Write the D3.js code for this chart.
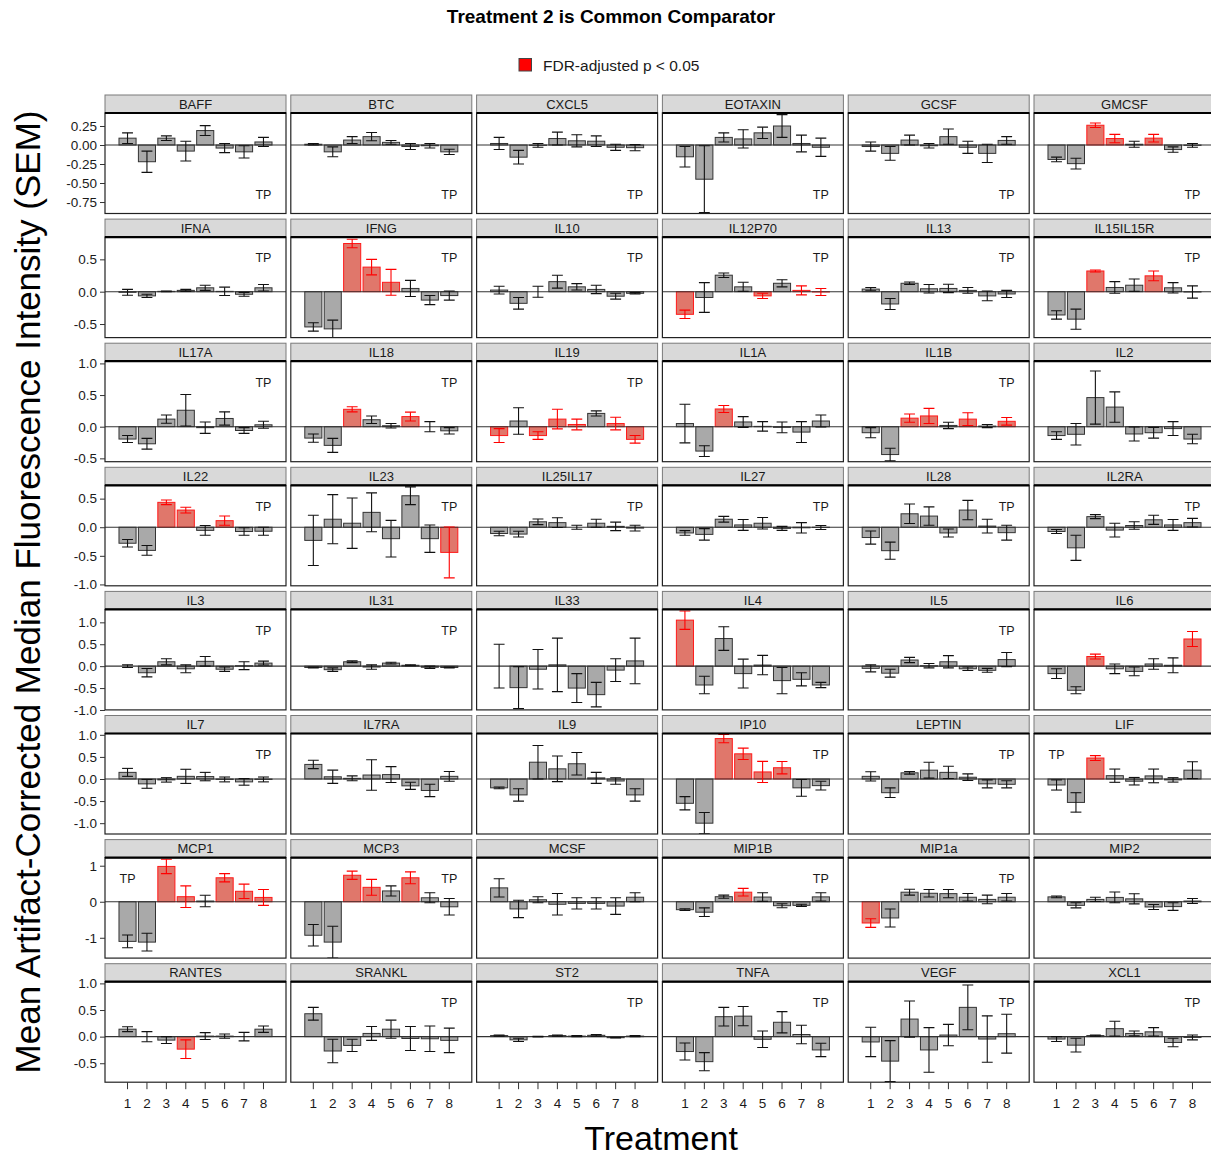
<!DOCTYPE html>
<html>
<head>
<meta charset="utf-8">
<script src="https://cdn.jsdelivr.net/npm/d3@7"></script>
<style>
  body { margin: 0; background: #fff; }
  svg { display: block; font-family: "Liberation Sans", Arial, sans-serif; }
</style>
</head>
<body>
<div id="chart"></div>
<script>
// analytes, laid out 6 per row
const analytes = [
  "BAFF", "BTC", "CXCL5", "EOTAXIN", "GCSF", "GMCSF",
  "IFNA", "IFNG", "IL10", "IL12P70", "IL13", "IL15IL15R",
  "IL17A", "IL18", "IL19", "IL1A", "IL1B", "IL2",
  "IL22", "IL23", "IL25IL17", "IL27", "IL28", "IL2RA",
  "IL3", "IL31", "IL33", "IL4", "IL5", "IL6",
  "IL7", "IL7RA", "IL9", "IP10", "LEPTIN", "LIF",
  "MCP1", "MCP3", "MCSF", "MIP1B", "MIP1a", "MIP2",
  "RANTES", "SRANKL", "ST2", "TNFA", "VEGF", "XCL1"
];

const treatments = [1, 2, 3, 4, 5, 6, 7, 8];

// mean artifact-corrected MFI, treatments 1..8
const means = [
  [0.09, -0.22, 0.09, -0.08, 0.19, -0.04, -0.09, 0.04],
  [0.01, -0.09, 0.065, 0.11, 0.035, -0.02, -0.01, -0.09],
  [0.02, -0.16, -0.005, 0.085, 0.055, 0.05, -0.03, -0.035],
  [-0.155, -0.45, 0.10, 0.08, 0.16, 0.25, 0.02, -0.03],
  [-0.02, -0.11, 0.065, -0.01, 0.11, -0.03, -0.11, 0.06],
  [-0.19, -0.245, 0.26, 0.085, 0.01, 0.09, -0.06, -0.005],

  [-0.01, -0.065, 0.005, 0.02, 0.06, 0.005, -0.04, 0.06],
  [-0.545, -0.575, 0.745, 0.38, 0.145, 0.05, -0.13, -0.06],
  [0.025, -0.18, 0.0, 0.155, 0.075, 0.035, -0.07, -0.025],
  [-0.35, -0.09, 0.255, 0.075, -0.065, 0.13, 0.02, -0.005],
  [0.04, -0.19, 0.13, 0.045, 0.05, 0.02, -0.065, -0.035],
  [-0.36, -0.425, 0.32, 0.065, 0.1, 0.245, 0.06, -0.005],

  [-0.195, -0.27, 0.12, 0.26, -0.015, 0.13, -0.06, 0.03],
  [-0.18, -0.295, 0.275, 0.11, 0.015, 0.16, 0.0, -0.065],
  [-0.14, 0.09, -0.14, 0.12, 0.035, 0.21, 0.05, -0.2],
  [0.05, -0.385, 0.28, 0.075, 0.005, -0.01, -0.085, 0.09],
  [-0.095, -0.44, 0.135, 0.17, 0.02, 0.12, 0.01, 0.085],
  [-0.14, -0.12, 0.46, 0.31, -0.115, -0.095, -0.03, -0.195],

  [-0.28, -0.405, 0.435, 0.3, -0.055, 0.115, -0.075, -0.07],
  [-0.23, 0.14, 0.07, 0.26, -0.2, 0.55, -0.2, -0.44],
  [-0.11, -0.12, 0.095, 0.08, 0.0, 0.07, 0.015, -0.015],
  [-0.1, -0.125, 0.14, 0.04, 0.07, -0.02, -0.01, -0.005],
  [-0.18, -0.41, 0.235, 0.195, -0.1, 0.3, 0.02, -0.095],
  [-0.075, -0.36, 0.185, -0.05, 0.03, 0.13, 0.04, 0.08],

  [0.0, -0.15, 0.1, -0.06, 0.11, -0.07, 0.01, 0.07],
  [-0.03, -0.08, 0.1, -0.02, 0.07, 0.02, -0.025, -0.03],
  [0.0, -0.49, -0.07, 0.03, -0.5, -0.65, -0.09, 0.12],
  [1.05, -0.43, 0.63, -0.17, 0.025, -0.33, -0.3, -0.43],
  [-0.05, -0.16, 0.14, 0.01, 0.1, -0.06, -0.095, 0.15],
  [-0.17, -0.55, 0.22, -0.06, -0.12, 0.05, 0.02, 0.62],

  [0.15, -0.11, -0.02, 0.06, 0.055, -0.01, -0.065, -0.01],
  [0.33, 0.05, 0.015, 0.09, 0.1, -0.155, -0.26, 0.06],
  [-0.2, -0.36, 0.38, 0.23, 0.345, 0.025, -0.045, -0.36],
  [-0.55, -1.0, 0.915, 0.57, 0.16, 0.255, -0.2, -0.15],
  [0.06, -0.31, 0.14, 0.2, 0.15, 0.04, -0.11, -0.12],
  [-0.135, -0.53, 0.475, 0.075, -0.05, 0.07, -0.02, 0.2],

  [-1.1, -1.12, 0.98, 0.14, 0.02, 0.665, 0.29, 0.12],
  [-0.93, -1.12, 0.735, 0.4, 0.3, 0.665, 0.11, -0.14],
  [0.385, -0.2, 0.055, -0.07, -0.045, -0.045, -0.12, 0.125],
  [-0.22, -0.29, 0.14, 0.265, 0.13, -0.11, -0.1, 0.135],
  [-0.59, -0.45, 0.265, 0.235, 0.225, 0.125, 0.065, 0.125],
  [0.135, -0.1, 0.065, 0.12, 0.08, -0.145, -0.135, 0.02],

  [0.14, 0.0, -0.065, -0.235, 0.01, 0.01, 0.0, 0.14],
  [0.43, -0.27, -0.165, 0.06, 0.14, -0.035, -0.04, -0.07],
  [0.02, -0.06, 0.0, 0.02, 0.01, 0.025, -0.02, 0.01],
  [-0.28, -0.47, 0.375, 0.385, -0.05, 0.27, 0.04, -0.25],
  [-0.1, -0.46, 0.33, -0.25, 0.03, 0.55, -0.045, 0.055],
  [-0.045, -0.16, 0.02, 0.15, 0.06, 0.09, -0.11, -0.015]
];

// SEM for each bar
const sems = [
  [0.07, 0.14, 0.03, 0.13, 0.065, 0.06, 0.08, 0.06],
  [0.01, 0.065, 0.045, 0.055, 0.025, 0.04, 0.03, 0.035],
  [0.08, 0.09, 0.025, 0.085, 0.08, 0.07, 0.04, 0.04],
  [0.135, 0.44, 0.06, 0.12, 0.075, 0.15, 0.11, 0.12],
  [0.06, 0.09, 0.065, 0.03, 0.1, 0.08, 0.12, 0.05],
  [0.03, 0.07, 0.03, 0.055, 0.04, 0.05, 0.035, 0.025],

  [0.045, 0.025, 0.005, 0.015, 0.04, 0.065, 0.03, 0.05],
  [0.065, 0.135, 0.065, 0.12, 0.2, 0.125, 0.07, 0.07],
  [0.06, 0.09, 0.085, 0.1, 0.05, 0.065, 0.045, 0.01],
  [0.065, 0.23, 0.035, 0.07, 0.04, 0.055, 0.07, 0.055],
  [0.025, 0.085, 0.02, 0.065, 0.065, 0.045, 0.075, 0.055],
  [0.065, 0.155, 0.015, 0.09, 0.095, 0.075, 0.08, 0.095],

  [0.055, 0.085, 0.065, 0.25, 0.09, 0.105, 0.045, 0.055],
  [0.065, 0.11, 0.04, 0.06, 0.035, 0.07, 0.08, 0.05],
  [0.11, 0.21, 0.06, 0.155, 0.085, 0.04, 0.1, 0.06],
  [0.305, 0.085, 0.055, 0.085, 0.075, 0.085, 0.165, 0.095],
  [0.08, 0.1, 0.065, 0.12, 0.05, 0.1, 0.025, 0.06],
  [0.06, 0.17, 0.42, 0.24, 0.11, 0.085, 0.11, 0.075],

  [0.065, 0.085, 0.04, 0.05, 0.085, 0.08, 0.065, 0.07],
  [0.44, 0.43, 0.44, 0.34, 0.32, 0.155, 0.24, 0.445],
  [0.04, 0.05, 0.05, 0.085, 0.035, 0.07, 0.075, 0.05],
  [0.04, 0.1, 0.05, 0.095, 0.1, 0.035, 0.09, 0.035],
  [0.115, 0.15, 0.17, 0.16, 0.07, 0.17, 0.12, 0.13],
  [0.035, 0.22, 0.035, 0.12, 0.065, 0.08, 0.095, 0.075],

  [0.03, 0.095, 0.07, 0.09, 0.11, 0.05, 0.09, 0.045],
  [0.01, 0.04, 0.02, 0.05, 0.02, 0.01, 0.025, 0.01],
  [0.5, 0.48, 0.45, 0.61, 0.33, 0.28, 0.26, 0.52],
  [0.21, 0.2, 0.27, 0.33, 0.22, 0.3, 0.15, 0.06],
  [0.08, 0.09, 0.06, 0.05, 0.14, 0.04, 0.045, 0.16],
  [0.11, 0.08, 0.055, 0.11, 0.1, 0.12, 0.17, 0.17],

  [0.09, 0.1, 0.05, 0.16, 0.095, 0.055, 0.075, 0.055],
  [0.095, 0.15, 0.055, 0.345, 0.18, 0.08, 0.14, 0.11],
  [0.02, 0.14, 0.38, 0.29, 0.255, 0.125, 0.075, 0.14],
  [0.15, 0.24, 0.095, 0.13, 0.24, 0.14, 0.19, 0.1],
  [0.105, 0.11, 0.03, 0.18, 0.14, 0.075, 0.09, 0.08],
  [0.115, 0.22, 0.055, 0.15, 0.085, 0.155, 0.05, 0.19],

  [0.175, 0.245, 0.2, 0.3, 0.16, 0.115, 0.2, 0.22],
  [0.3, 0.44, 0.115, 0.22, 0.14, 0.165, 0.14, 0.23],
  [0.255, 0.24, 0.085, 0.3, 0.155, 0.155, 0.23, 0.125],
  [0.025, 0.12, 0.045, 0.105, 0.12, 0.055, 0.03, 0.115],
  [0.12, 0.25, 0.08, 0.105, 0.115, 0.105, 0.12, 0.105],
  [0.025, 0.07, 0.06, 0.15, 0.14, 0.07, 0.105, 0.07],

  [0.045, 0.095, 0.065, 0.175, 0.065, 0.04, 0.08, 0.06],
  [0.12, 0.22, 0.115, 0.13, 0.17, 0.225, 0.24, 0.23],
  [0.01, 0.03, 0.005, 0.01, 0.01, 0.015, 0.005, 0.01],
  [0.16, 0.17, 0.175, 0.18, 0.155, 0.2, 0.175, 0.125],
  [0.275, 0.385, 0.34, 0.42, 0.2, 0.42, 0.435, 0.365],
  [0.045, 0.13, 0.01, 0.14, 0.045, 0.08, 0.08, 0.045]
];

// treatments with FDR-adjusted p < 0.05
const sigTreatments = [
  [], [], [], [], [], [3, 4, 6],
  [], [3, 4, 5], [], [1, 5, 7, 8], [], [3, 6],
  [], [3, 6], [1, 3, 4, 5, 7, 8], [3], [3, 4, 6, 8], [],
  [3, 4, 6], [8], [], [], [], [],
  [], [], [], [1], [], [3, 8],
  [], [], [], [3, 4, 5, 6], [], [3],
  [3, 4, 6, 7, 8], [3, 4, 6], [], [4], [1], [],
  [4], [], [], [], [], []
];

// where the "TP" tag sits: tr = top right, br = bottom right, tl = top left
const tpTags = [
  "br", "br", "br", "br", "br", "br",
  "tr", "tr", "tr", "tr", "tr", "tr",
  "tr", "tr", "tr", "", "tr", "",
  "tr", "tr", "tr", "tr", "tr", "tr",
  "tr", "tr", "", "", "tr", "",
  "tr", "", "", "tr", "tr", "tl",
  "tl", "tr", "", "tr", "tr", "",
  "", "tr", "tr", "tr", "tr", "tr"
];

// shared y range and ticks per facet row
const rowLimits = [
  [-0.901, 0.421], [-0.71, 0.844], [-0.553, 1.035], [-1.024, 0.733],
  [-0.998, 1.295], [-1.245, 1.03], [-1.564, 1.225], [-0.856, 1.032]
];
const rowTicks = [
  [-0.75, -0.5, -0.25, 0, 0.25], [-0.5, 0, 0.5], [-0.5, 0, 0.5, 1], [-1, -0.5, 0, 0.5],
  [-1, -0.5, 0, 0.5, 1], [-1, -0.5, 0, 0.5, 1], [-1, 0, 1], [-0.5, 0, 0.5, 1]
];
const rowFormats = [".2f", ".1f", ".1f", ".1f", ".1f", ".1f", "d", ".1f"];

// layout
const width = 1211, height = 1158;
const left0 = 105, colStep = 185.8, panelW = 181;
const top0 = 95, rowStep = 124.1, stripH = 18, panelH = 100.5;

const grayFill = "#a9a9a9", grayLine = "#333";
const redFill = "#e0776b", redLine = "#ff1a1a";

const svg = d3.select("#chart").append("svg")
  .attr("width", width)
  .attr("height", height);

svg.append("rect").attr("width", width).attr("height", height).attr("fill", "#fff");

// title and legend
svg.append("text")
  .attr("x", 611).attr("y", 23)
  .attr("text-anchor", "middle")
  .attr("font-size", 19).attr("font-weight", "bold")
  .text("Treatment 2 is Common Comparator");

svg.append("rect")
  .attr("x", 519).attr("y", 58.5).attr("width", 12.5).attr("height", 12.5)
  .attr("fill", "#ff0000").attr("stroke", "#444").attr("stroke-width", 1);
svg.append("text")
  .attr("x", 543).attr("y", 70.5)
  .attr("font-size", 15.5).attr("fill", "#1a1a1a")
  .text("FDR-adjusted p < 0.05");

// axis titles
svg.append("text")
  .attr("transform", "translate(40,592) rotate(-90)")
  .attr("text-anchor", "middle")
  .attr("font-size", 35)
  .text("Mean Artifact-Corrected Median Fluorescence Intensity (SEM)");

svg.append("text")
  .attr("x", 661).attr("y", 1150)
  .attr("text-anchor", "middle")
  .attr("font-size", 34)
  .text("Treatment");

const x = d3.scaleBand()
  .domain(treatments)
  .range([0, panelW])
  .paddingInner(0.12)
  .paddingOuter(0.72);
const capHalf = x.step() * 0.28;

const defs = svg.append("defs");
defs.append("clipPath").attr("id", "panel-clip")
  .append("rect").attr("width", panelW).attr("height", panelH);

analytes.forEach((name, i) => {
  const r = Math.floor(i / 6), c = i % 6;
  const px = left0 + c * colStep;
  const py = top0 + r * rowStep;

  const y = d3.scaleLinear().domain(rowLimits[r]).range([panelH, 0]);

  const data = treatments.map((t, k) => ({
    t: t,
    mean: means[i][k],
    se: sems[i][k],
    sig: sigTreatments[i].includes(t)
  }));

  // strip
  svg.append("rect")
    .attr("x", px).attr("y", py)
    .attr("width", panelW).attr("height", stripH)
    .attr("fill", "#d9d9d9").attr("stroke", "#7a7a7a").attr("stroke-width", 1);
  svg.append("text")
    .attr("x", px + panelW / 2).attr("y", py + stripH / 2 + 4.6)
    .attr("text-anchor", "middle")
    .attr("font-size", 13).attr("fill", "#1a1a1a")
    .text(name);

  const g = svg.append("g")
    .attr("transform", `translate(${px},${py + stripH})`);

  const plot = g.append("g").attr("clip-path", "url(#panel-clip)");

  plot.selectAll("rect.bar")
    .data(data)
    .join("rect")
    .attr("class", "bar")
    .attr("x", d => x(d.t))
    .attr("width", x.bandwidth())
    .attr("y", d => y(Math.max(0, d.mean)))
    .attr("height", d => Math.abs(y(d.mean) - y(0)))
    .attr("fill", d => d.sig ? redFill : grayFill)
    .attr("stroke", d => d.sig ? redLine : grayLine)
    .attr("stroke-width", 1);

  plot.append("line")
    .attr("x1", 0).attr("x2", panelW)
    .attr("y1", y(0)).attr("y2", y(0))
    .attr("stroke", "#333").attr("stroke-width", 1.1);

  const err = plot.selectAll("g.err")
    .data(data)
    .join("g")
    .attr("class", "err")
    .attr("stroke", d => d.sig ? "#ff0000" : "#111")
    .attr("stroke-width", 1.1);
  err.append("line")
    .attr("x1", d => x(d.t) + x.bandwidth() / 2)
    .attr("x2", d => x(d.t) + x.bandwidth() / 2)
    .attr("y1", d => y(d.mean - d.se))
    .attr("y2", d => y(d.mean + d.se));
  err.append("line")
    .attr("x1", d => x(d.t) + x.bandwidth() / 2 - capHalf)
    .attr("x2", d => x(d.t) + x.bandwidth() / 2 + capHalf)
    .attr("y1", d => y(d.mean + d.se))
    .attr("y2", d => y(d.mean + d.se));
  err.append("line")
    .attr("x1", d => x(d.t) + x.bandwidth() / 2 - capHalf)
    .attr("x2", d => x(d.t) + x.bandwidth() / 2 + capHalf)
    .attr("y1", d => y(d.mean - d.se))
    .attr("y2", d => y(d.mean - d.se));

  // TP tag
  const tag = tpTags[i];
  if (tag) {
    const tx = tag === "tl" ? x(1) + x.bandwidth() / 2 : x(8) + x.bandwidth() / 2;
    const ty = tag === "br" ? panelH * 0.806 : panelH * 0.208;
    g.append("text")
      .attr("x", tx).attr("y", ty + 4.5)
      .attr("text-anchor", "middle")
      .attr("font-size", 12.5).attr("fill", "#1a1a1a")
      .text("TP");
  }

  // panel border and strip underline
  g.append("rect")
    .attr("width", panelW).attr("height", panelH)
    .attr("fill", "none").attr("stroke", "#222").attr("stroke-width", 1.2);
  g.append("line")
    .attr("x1", 0).attr("x2", panelW)
    .attr("y1", 0).attr("y2", 0)
    .attr("stroke", "#000").attr("stroke-width", 2.2);

  if (c === 0) {
    const fmt = d3.format(rowFormats[r]);
    const ax = g.append("g")
      .call(d3.axisLeft(y)
        .tickValues(rowTicks[r])
        .tickFormat(d => fmt(d).replace("\u2212", "-"))
        .tickSize(5).tickSizeOuter(0).tickPadding(3));
    ax.select(".domain").remove();
    ax.selectAll("text").attr("font-size", 13.5).attr("fill", "#1a1a1a")
      .attr("font-family", "Liberation Sans, Arial, sans-serif");
    ax.selectAll("line").attr("stroke", "#333");
  }

  if (r === 7) {
    const ax = g.append("g")
      .attr("transform", `translate(0,${panelH})`)
      .call(d3.axisBottom(x).tickSize(7).tickSizeOuter(0).tickPadding(9));
    ax.select(".domain").remove();
    ax.selectAll("text").attr("font-size", 13.5).attr("fill", "#1a1a1a")
      .attr("font-family", "Liberation Sans, Arial, sans-serif");
    ax.selectAll("line").attr("stroke", "#333");
  }
});
</script>
</body>
</html>
